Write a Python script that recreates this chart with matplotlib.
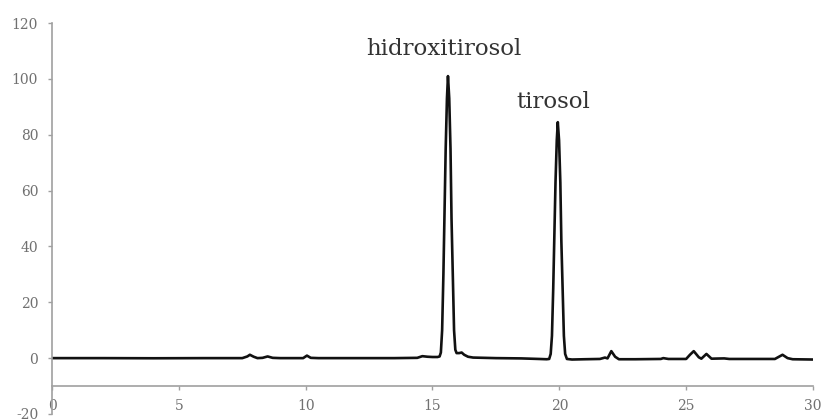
import matplotlib.pyplot as plt

# chromatogram: retention time (min) and signal
time = [0.0, 2.0, 4.0, 6.0, 7.5, 7.7, 7.8, 7.95, 8.1, 8.3, 8.5, 8.7, 9.0,
        9.9, 10.05, 10.2, 10.5, 12.0, 13.5, 14.4, 14.6, 14.8, 15.0, 15.2,
        15.28, 15.33, 15.38, 15.43, 15.47, 15.52, 15.57, 15.61, 15.66,
        15.71, 15.75, 15.8, 15.85, 15.9, 15.95, 16.05, 16.15, 16.25, 16.4,
        16.6, 17.5, 18.5, 19.2, 19.5, 19.6, 19.66, 19.71, 19.76, 19.8,
        19.85, 19.9, 19.94, 19.99, 20.04, 20.08, 20.13, 20.18, 20.23,
        20.3, 20.5, 21.0, 21.6, 21.8, 21.9, 22.05, 22.2, 22.35, 23.0,
        24.0, 24.1, 24.3, 25.0, 25.15, 25.3, 25.5, 25.6, 25.8, 26.0, 26.5,
        26.7, 28.5, 28.8, 29.0, 29.2, 30.0]
signal = [0.0, 0.0, -0.05, 0.0, 0.0, 0.6, 1.2, 0.5, 0.0, 0.1, 0.6, 0.1, 0.0,
          0.0, 0.9, 0.1, 0.0, 0.0, 0.0, 0.1, 0.7, 0.5, 0.4, 0.4,
          0.6, 2.0, 10.0, 30.0, 50.0, 75.0, 93.0, 101.0, 93.0,
          75.0, 50.0, 30.0, 10.0, 3.0, 1.8, 1.8, 2.0, 1.2, 0.5,
          0.2, 0.0, -0.1, -0.3, -0.4, -0.3, 1.5, 8.0, 25.0, 42.0,
          63.0, 78.0, 84.5, 78.0, 63.0, 42.0, 25.0, 8.0, 1.5,
          -0.3, -0.5, -0.4, -0.3, 0.2, -0.1, 2.5, 0.5, -0.4, -0.4,
          -0.3, 0.0, -0.3, -0.3, 1.2, 2.5, 0.3, -0.2, 1.5, -0.2, -0.1,
          -0.3, -0.3, 1.2, 0.0, -0.4, -0.5]

labels = ['hidroxitirosol', 'tirosol']
label_x = [15.43, 19.75]
label_y = [108.6, 89.6]

xticks = [0, 5, 10, 15, 20, 25, 30]
yticks = [-20, 0, 20, 40, 60, 80, 100, 120]

plt.rcParams['font.family'] = ['DejaVu Serif']
plt.rcParams['axes.unicode_minus'] = False

fig = plt.figure(figsize=(8.22, 4.19), dpi=100)
ax = fig.add_axes([0.0633, 0.012, 0.9257, 0.933])

ax.plot(time, signal, color='#111111', linewidth=1.9)

for txt, x, y in zip(labels, label_x, label_y):
    ax.text(x, y, txt, ha='center', va='baseline', fontsize=16.5, color='#333333')

ax.set_xlim(0, 30)
ax.set_ylim(-20, 120)
ax.set_xticks(xticks)
ax.set_yticks(yticks)

ax.spines['top'].set_visible(False)
ax.spines['right'].set_visible(False)
ax.spines['bottom'].set_position(('data', -10))
for s in ['left', 'bottom']:
    ax.spines[s].set_color('#a0a0a0')
    ax.spines[s].set_linewidth(1.2)

ax.tick_params(axis='both', direction='out', length=3, width=1, color='#a0a0a0',
               labelcolor='#707070', labelsize=10)
ax.tick_params(axis='y', pad=7)
ax.tick_params(axis='x', pad=6)

fig.savefig('out.png', dpi=100)
